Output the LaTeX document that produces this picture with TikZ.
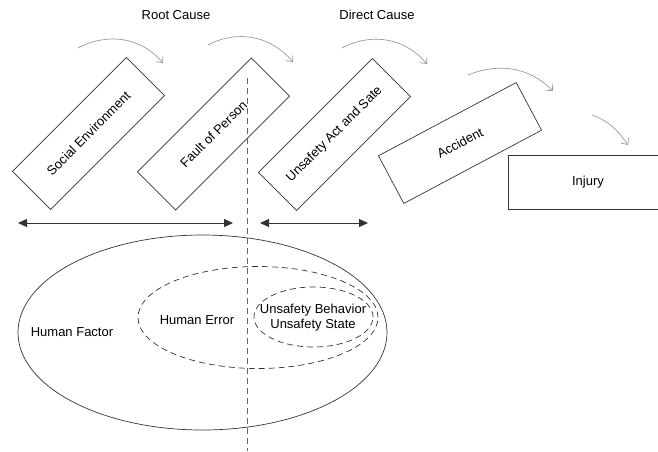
\documentclass[tikz,border=0pt]{standalone}
\usepackage{fontspec}
\setmainfont{Liberation Sans}
\usetikzlibrary{arrows.meta}
\begin{document}
\begin{tikzpicture}[x=1pt,y=-1pt,
  box/.style={draw=black!80, line width=0.7pt, minimum width=161pt, minimum height=54pt, inner sep=0pt, font=\fontsize{13}{15}\selectfont},
  flow/.style={draw=black!40, line width=0.7pt, -{Straight Barb[length=5pt,width=9pt]}},
  span/.style={draw=black!80, line width=0.9pt, {Triangle[length=9pt,width=8pt]}-{Triangle[length=9pt,width=8pt]}},
  lbl/.style={font=\fontsize{13}{15}\selectfont, inner sep=0pt},
  dashline/.style={draw=black!60, line width=0.8pt, dash pattern=on 6pt off 4pt},
  dashell/.style={draw=black!80, line width=0.7pt, dash pattern=on 6pt off 4pt}]
\useasboundingbox (0,0) rectangle (658,451);
\clip (0,0) rectangle (658,451);

% titles
\node[lbl] (root) at (176,15) {Root Cause};
\node[lbl] (direct) at (377,15) {Direct Cause};

% boxes
\node[box, rotate=45] (b1) at (88.5,133.5) {Social Environment};
\node[box, rotate=45] (b2) at (213.5,134) {Fault of Person};
\node[box, rotate=45] (b3) at (334.5,134.5) {Unsafety Act and Sate};
\node[box, rotate=28, minimum width=156pt] (b4) at (460,143) {Accident};
\node[box, minimum width=160pt] (b5) at (588,182) {Injury};

% curved flow arrows
\coordinate (f1s) at (78,48);  \coordinate (f1e) at (163,63);
\coordinate (f2s) at (208,45); \coordinate (f2e) at (293,62);
\coordinate (f3s) at (342,48); \coordinate (f3e) at (427,64);
\coordinate (f4s) at (468,75); \coordinate (f4e) at (553,91);
\coordinate (f5s) at (592,115); \coordinate (f5e) at (628,145);
\draw[flow] (f1s) to[out=28,in=130] (f1e);
\draw[flow] (f2s) to[out=28,in=130] (f2e);
\draw[flow] (f3s) to[out=28,in=130] (f3e);
\draw[flow] (f4s) to[out=22,in=135] (f4e);
\draw[flow] (f5s) to[out=-20,in=125] (f5e);

% divider
\coordinate (dtop) at (247,78);
\coordinate (dbot) at (247,451);
\draw[dashline] (dtop) -- (dbot);

% span arrows
\coordinate (s1a) at (18,223); \coordinate (s1b) at (233,223);
\coordinate (s2a) at (260,223); \coordinate (s2b) at (368,223);
\draw[span] (s1a) -- (s1b);
\draw[span] (s2a) -- (s2b);

% ellipses
\coordinate (ehf) at (202.5,332.5);
\coordinate (ehe) at (258,317.5);
\coordinate (eus) at (313.5,317);
\draw[draw=black!80, line width=0.7pt] (ehf) ellipse [x radius=184.5pt, y radius=97.5pt];
\draw[dashell] (ehe) ellipse [x radius=120pt, y radius=51pt];
\draw[dashell] (eus) ellipse [x radius=59.5pt, y radius=30pt];

\node[lbl] (hf) at (72,332) {Human Factor};
\node[lbl] (he) at (197,320) {Human Error};
\node[lbl, align=center] (us) at (313,318) {Unsafety Behavior\\Unsafety State};
\end{tikzpicture}
\end{document}
